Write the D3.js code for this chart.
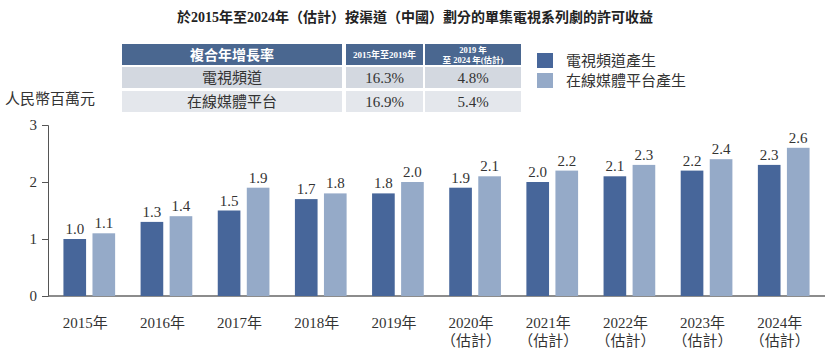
<!DOCTYPE html>
<html><head><meta charset="utf-8">
<script src="https://cdn.jsdelivr.net/npm/d3@7/dist/d3.min.js"></script>
<style>
body{margin:0;background:#fff;}
text{font-family:"Liberation Serif","Noto Sans CJK TC",serif;}
</style></head>
<body><svg id="c" width="830" height="357"></svg>
<script>
const categories=["2015年","2016年","2017年","2018年","2019年","2020年","2021年","2022年","2023年","2024年"];
const estimated=[false,false,false,false,false,true,true,true,true,true];
const seriesNames=["電視頻道產生","在線媒體平台產生"];
const tvValues=[1.0,1.3,1.5,1.7,1.8,1.9,2.0,2.1,2.2,2.3];
const onlineValues=[1.1,1.4,1.9,1.8,2.0,2.1,2.2,2.3,2.4,2.6];
const yTicks=[0,1,2,3];
const tableHeader=["複合年增長率","2015年至2019年",["2019 年","至 2024 年(估計)"]];
const tableRows=[["電視頻道","16.3%","4.8%"],["在線媒體平台","16.9%","5.4%"]];
const colors=["#47669a","#95aac8"];

const svg=d3.select("#c");
const x0=d3.scaleBand().domain(categories).range([48,825]).paddingInner(0.33).paddingOuter(0.2);
const x1=d3.scaleBand().domain([0,1]).range([0,x0.bandwidth()]).paddingInner(0.22);
const y=d3.scaleLinear().domain([0,3]).range([296,125]);

// title
svg.append("text").attr("x",415).attr("y",22).attr("text-anchor","middle")
 .attr("font-size",14).attr("font-weight","bold").attr("fill","#222")
 .text("於2015年至2024年（估計）按渠道（中國）劃分的單集電視系列劇的許可收益");

// table
const cols=[[122,220],[346,77],[425,96]];
const hdr=svg.append("g");
cols.forEach((c,i)=>{
 hdr.append("rect").attr("x",c[0]).attr("y",44).attr("width",c[1]).attr("height",21).attr("fill","#4a6790");
});
hdr.append("text").attr("x",122+110).attr("y",60).attr("text-anchor","middle").attr("fill","#fff")
 .attr("font-size",14).attr("font-weight","bold").attr("font-family","Noto Sans CJK TC").text(tableHeader[0]);
hdr.append("text").attr("x",346+38.5).attr("y",58).attr("text-anchor","middle").attr("fill","#fff")
 .attr("font-size",9).attr("font-weight","bold").text(tableHeader[1]);
hdr.append("text").attr("x",425+48).attr("y",53).attr("text-anchor","middle").attr("fill","#fff")
 .attr("font-size",8.5).attr("font-weight","bold").text(tableHeader[2][0]);
hdr.append("text").attr("x",425+48).attr("y",63).attr("text-anchor","middle").attr("fill","#fff")
 .attr("font-size",8.5).attr("font-weight","bold").text(tableHeader[2][1]);
const rowY=[67,91];
const rowFill=["#d3d8e0","#e4e7ec"];
tableRows.forEach((r,ri)=>{
 cols.forEach((c,ci)=>{
  svg.append("rect").attr("x",c[0]).attr("y",rowY[ri]).attr("width",c[1]).attr("height",21).attr("fill",rowFill[ri]);
  svg.append("text").attr("x",c[0]+c[1]/2).attr("y",rowY[ri]+16).attr("text-anchor","middle")
   .attr("font-size",15).attr("fill","#333").text(r[ci]);
 });
});

// legend
seriesNames.forEach((n,i)=>{
 svg.append("rect").attr("x",537).attr("y",53+i*20).attr("width",16).attr("height",15).attr("fill",colors[i]);
 svg.append("text").attr("x",566).attr("y",66+i*20).attr("font-size",15).attr("fill","#333").text(n);
});

// y label
svg.append("text").attr("x",5).attr("y",104).attr("font-size",15).attr("fill","#333").text("人民幣百萬元");

// axes
const yAxis=svg.append("g").attr("transform","translate(48,0)")
 .call(d3.axisLeft(y).tickValues(yTicks).tickSize(6).tickFormat(d3.format("d")));
yAxis.select(".domain").attr("stroke","#555");
yAxis.selectAll(".tick line").attr("stroke","#555");
yAxis.selectAll(".tick text").attr("font-size",15).attr("fill","#333").attr("font-family","Liberation Serif").attr("dx",-2);

svg.append("line").attr("x1",48).attr("x2",825).attr("y1",y(0)).attr("y2",y(0)).attr("stroke","#666").attr("stroke-width",1.5);

// bars
const data=categories.map((c,i)=>({c,vals:[tvValues[i],onlineValues[i]]}));
const g=svg.append("g");
data.forEach(d=>{
 d.vals.forEach((v,si)=>{
  const bx=x0(d.c)+x1(si);
  g.append("rect").attr("x",bx).attr("y",y(v)).attr("width",x1.bandwidth()).attr("height",y(0)-y(v)).attr("fill",colors[si]);
  g.append("text").attr("x",bx+x1.bandwidth()/2).attr("y",y(v)-5).attr("text-anchor","middle")
   .attr("font-size",15).attr("fill","#333").text(v.toFixed(1));
 });
});

// x labels
categories.forEach((c,i)=>{
 const cx=x0(c)+x0.bandwidth()/2-4;
 svg.append("text").attr("x",cx).attr("y",328).attr("text-anchor","middle").attr("font-size",15).attr("fill","#333").text(c);
 if(estimated[i]) svg.append("text").attr("x",cx).attr("y",346).attr("text-anchor","middle").attr("font-size",15).attr("fill","#333").text("（估計）");
});
</script></body></html>
